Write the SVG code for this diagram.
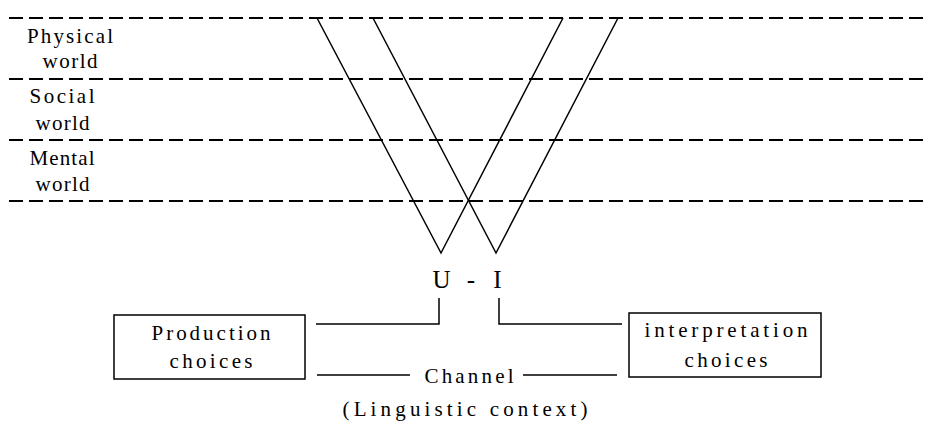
<svg xmlns="http://www.w3.org/2000/svg" width="929" height="423" viewBox="0 0 929 423">
<style>
.t{font-family:"Liberation Serif","Times New Roman",serif;fill:#000;text-anchor:middle;lengthAdjust:spacing}
.s20{font-size:21px}
.s25{font-size:25px}
.dash{stroke:#000;stroke-width:2;stroke-dasharray:14 6;fill:none}
.ln{stroke:#000;stroke-width:1.5;fill:none}
.box{stroke:#000;stroke-width:1.5;fill:#fff}
</style>
<rect width="929" height="423" fill="#fff"/>
<g id="layers">
<line class="dash" x1="9" y1="18" x2="929" y2="18"/>
<line class="dash" x1="9" y1="79" x2="929" y2="79"/>
<line class="dash" x1="9" y1="140" x2="929" y2="140"/>
<line class="dash" x1="9" y1="201" x2="929" y2="201"/>
</g>
<g id="physical">
<text class="t s20" x="70" y="43" textLength="86" lengthAdjust="spacing">Physical</text>
<text class="t s20" x="70" y="68" textLength="55" lengthAdjust="spacing">world</text>
</g>
<g id="social">
<text class="t s20" x="62" y="103" textLength="65" lengthAdjust="spacing">Social</text>
<text class="t s20" x="62.5" y="130" textLength="54" lengthAdjust="spacing">world</text>
</g>
<g id="mental">
<text class="t s20" x="62" y="165" textLength="65" lengthAdjust="spacing">Mental</text>
<text class="t s20" x="62.5" y="191" textLength="54" lengthAdjust="spacing">world</text>
</g>
<g id="ui">
<text class="t s25" x="441.5" y="288">U</text>
<text class="t s25" x="471" y="288">-</text>
<text class="t s25" x="497.5" y="288">I</text>
</g>
<g id="production">
<rect class="box" x="114" y="315" width="191" height="64"/>
<text class="t s20" x="211" y="340" textLength="119" lengthAdjust="spacing">Production</text>
<text class="t s20" x="211" y="368" textLength="83" lengthAdjust="spacing">choices</text>
</g>
<g id="interpretation">
<rect class="box" x="629" y="313" width="192" height="64"/>
<text class="t s20" x="726" y="337" textLength="163" lengthAdjust="spacing">interpretation</text>
<text class="t s20" x="726" y="367" textLength="83" lengthAdjust="spacing">choices</text>
</g>
<g id="channel">
<text class="t s20" x="469" y="383" textLength="89" lengthAdjust="spacing">Channel</text>
<text class="t s20" x="465" y="416" textLength="245" lengthAdjust="spacing">(Linguistic context)</text>
</g>
<g id="connectors">
<polyline class="ln" points="317,18 441,253 563,18"/>
<polyline class="ln" points="373,18 496,253 618,18"/>
<polyline class="ln" points="316,324 439,324 439,298"/>
<polyline class="ln" points="499,298 499,324 622,324"/>
<line class="ln" x1="317" y1="375" x2="410" y2="375"/>
<line class="ln" x1="523" y1="375" x2="617" y2="375"/>
</g>
</svg>
